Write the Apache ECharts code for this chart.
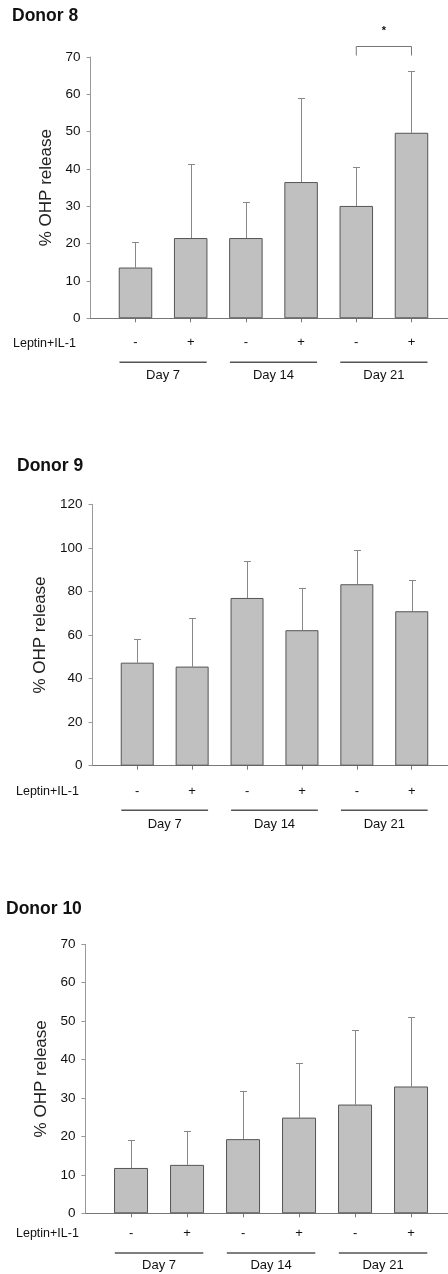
<!DOCTYPE html>
<html>
<head>
<meta charset="utf-8">
<script src="https://cdn.jsdelivr.net/npm/echarts@6/dist/echarts.min.js"></script>
<style>
html,body{margin:0;padding:0;background:#fff;}
#chart{width:448px;height:1274px;}
</style>
</head>
<body>
<div id="chart"></div>
<script>
// ---- data ----
const treatment = ['-', '+', '-', '+', '-', '+'];
const days = ['Day 7', 'Day 14', 'Day 21'];
const donors = ['Donor 8', 'Donor 9', 'Donor 10'];
const rowLabel = 'Leptin+IL-1';
const yName = '% OHP release';
const positions = [1, 2, 3, 4, 5, 6];

const donor8Mean = [13.6, 21.5, 21.5, 36.5, 30.1, 49.7];
const donor8SD   = [6.9, 19.9, 9.6, 22.4, 10.5, 16.6];
const donor9Mean = [47.3, 45.5, 77.0, 62.2, 83.3, 70.9];
const donor9SD   = [10.9, 22.3, 17.1, 19.5, 15.6, 14.5];
const donor10Mean = [11.8, 12.6, 19.3, 24.9, 28.3, 33.0];
const donor10SD   = [7.2, 8.7, 12.6, 14.1, 19.3, 18.0];

const yMaxes = [70, 120, 70];
const yIntervals = [10, 20, 10];
const sigDonor8 = { from: 5, to: 6, mark: '*' };

// ---- layout ----
const FONT = '"Liberation Sans", Arial, sans-serif';
const means = [donor8Mean, donor9Mean, donor10Mean];
const sds = [donor8SD, donor9SD, donor10SD];
const xMin = 0.185, xMax = 6.66;
const layout = [
  { left: 90.5, top: 57, height: 261.3, spacing: 55.2, barW: 33.5, nameGap: 36, titleX: 12, titleY: 7, lab: 25, ul: 44, day: 57.4, leptinX: 13 },
  { left: 92.5, top: 504.3, height: 261.4, spacing: 54.9, barW: 33, nameGap: 43, titleX: 17, titleY: 457, lab: 26.3, ul: 44.6, day: 58.6, leptinX: 16 },
  { left: 85.4, top: 944.3, height: 269, spacing: 56.6, barW: 34, nameGap: 32, titleX: 6, titleY: 900, lab: 20.7, ul: 39.7, day: 52.4, leptinX: 16 }
];

const grids = [], xAxes = [], yAxes = [], series = [], titles = [];
layout.forEach((L, i) => {
  grids.push({ left: L.left, top: L.top, height: L.height, width: (xMax - xMin) * L.spacing });
  titles.push({ text: donors[i], left: L.titleX, top: L.titleY, padding: 0,
    textStyle: { fontFamily: FONT, fontWeight: 'bold', fontSize: 17.5, color: '#111' } });
  xAxes.push({
    type: 'value', gridIndex: i, min: xMin, max: xMax,
    splitLine: { show: false },
    axisLine: { show: true, lineStyle: { color: '#777', width: 1 } },
    axisTick: { show: true, customValues: positions, length: 4, lineStyle: { color: '#777' } },
    axisLabel: { show: true, customValues: positions, margin: L.lab - 7,
      formatter: v => treatment[Math.round(v) - 1],
      fontFamily: FONT, fontSize: 13, color: '#111' }
  });
  yAxes.push({
    type: 'value', gridIndex: i, min: 0, max: yMaxes[i], interval: yIntervals[i],
    name: yName, nameLocation: 'middle', nameGap: L.nameGap,
    nameTextStyle: { fontFamily: FONT, fontSize: 17, color: '#222' },
    splitLine: { show: false },
    axisLine: { show: true, lineStyle: { color: '#999', width: 1 } },
    axisTick: { show: true, length: 4, lineStyle: { color: '#999' } },
    axisLabel: { margin: 10, fontFamily: FONT, fontSize: 13.5, color: '#111' }
  });
  series.push({
    type: 'bar', xAxisIndex: i, yAxisIndex: i, barWidth: L.barW,
    data: positions.map((p, k) => [p, means[i][k]]),
    itemStyle: { color: '#c0c0c0', borderColor: '#555', borderWidth: 1 },
    z: 3
  });
  series.push({
    type: 'custom', xAxisIndex: i, yAxisIndex: i, z: 2,
    data: positions.map((p, k) => [p, means[i][k], means[i][k] + sds[i][k]]),
    renderItem: (params, api) => {
      const p0 = api.coord([api.value(0), api.value(1)]);
      const p1 = api.coord([api.value(0), api.value(2)]);
      const x = Math.round(p0[0]) + 0.5, y1 = Math.round(p1[1]) + 0.5;
      return { type: 'group', children: [
        { type: 'line', shape: { x1: x, y1: p0[1], x2: x, y2: y1 }, style: { stroke: '#888', lineWidth: 1 } },
        { type: 'line', shape: { x1: x - 3.5, y1: y1, x2: x + 3.5, y2: y1 }, style: { stroke: '#888', lineWidth: 1 } }
      ] };
    }
  });
});

const chart = echarts.init(document.getElementById('chart'), null, { renderer: 'canvas' });
chart.setOption({
  animation: false,
  title: titles, grid: grids, xAxis: xAxes, yAxis: yAxes, series: series
});

// annotations positioned through the library's scales
const graphics = [];
layout.forEach((L, i) => {
  const zero = chart.convertToPixel({ gridIndex: i }, [1, 0])[1];
  graphics.push({ type: 'text', x: L.leptinX, y: zero + L.lab,
    style: { text: rowLabel, font: '12.5px ' + FONT, fill: '#111', textVerticalAlign: 'middle' } });
  days.forEach((d, g) => {
    const a = chart.convertToPixel({ gridIndex: i }, [2 * g + 1 - 0.29, 0])[0];
    const b = chart.convertToPixel({ gridIndex: i }, [2 * g + 2 + 0.29, 0])[0];
    graphics.push({ type: 'line', shape: { x1: a, y1: zero + L.ul, x2: b, y2: zero + L.ul },
      style: { stroke: '#555', lineWidth: 1.5 } });
    graphics.push({ type: 'text', x: (a + b) / 2, y: zero + L.day,
      style: { text: d, font: '13px ' + FONT, fill: '#111', textAlign: 'center', textVerticalAlign: 'middle' } });
  });
});
// significance bracket (Donor 8)
{
  const pA = chart.convertToPixel({ gridIndex: 0 }, [sigDonor8.from, 72.9]);
  const pB = chart.convertToPixel({ gridIndex: 0 }, [sigDonor8.to, 70.4]);
  const pS = chart.convertToPixel({ gridIndex: 0 }, [(sigDonor8.from + sigDonor8.to) / 2, 77]);
  const yTop = Math.round(pA[1]) + 0.5;
  graphics.push({ type: 'polyline', shape: { points: [[pA[0], pB[1]], [pA[0], yTop], [pB[0], yTop], [pB[0], pB[1]]] },
    style: { stroke: '#777', lineWidth: 1, fill: null } });
  graphics.push({ type: 'text', x: pS[0], y: pS[1],
    style: { text: sigDonor8.mark, font: 'bold 11px ' + FONT, fill: '#111', textAlign: 'center', textVerticalAlign: 'middle' } });
}
chart.setOption({ graphic: graphics });
</script>
</body>
</html>
